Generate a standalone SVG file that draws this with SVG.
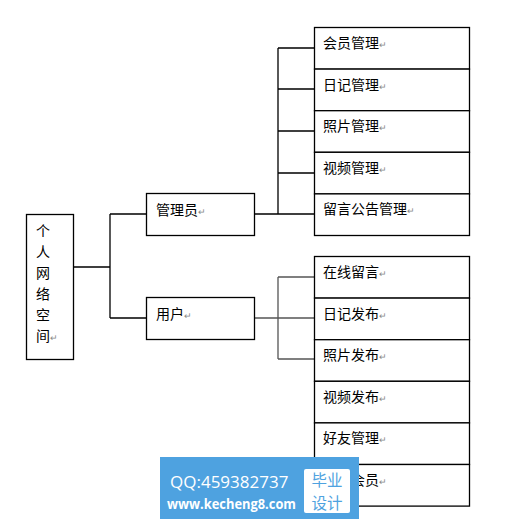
<svg xmlns="http://www.w3.org/2000/svg" width="520" height="524" viewBox="0 0 520 524">
<style>
.box{fill:#fff;stroke:#000;stroke-width:1.3}
.t{font-family:"Noto Sans CJK SC","Liberation Sans",sans-serif;font-size:14px;fill:#000}
.r{fill:#888;font-size:9px}
.ln{fill:none;stroke:#000;stroke-width:1.3}
.lg{fill:none;stroke:#555;stroke-width:1.3}
</style>
<rect width="520" height="524" fill="#fff"/>
<g id="connectors">
<path class="ln" d="M74 267H110M110 214V318M110 214H146M110 318H146"/>
<path class="ln" d="M254 214H278M278 48V214M278 48H314M278 89H314M278 131H314M278 173H314M278 214H314"/>
<path class="lg" d="M254 318H278M278 277V359M278 277H314M278 318H314M278 359H314"/>
</g>
<g id="root">
<rect class="box" x="26.5" y="214.5" width="47" height="145"/>
<text class="t" x="36" y="236">个</text>
<text class="t" x="36" y="257">人</text>
<text class="t" x="36" y="278">网</text>
<text class="t" x="36" y="299">络</text>
<text class="t" x="36" y="320">空</text>
<text class="t" x="36" y="341">间<tspan class="r">↵</tspan></text>
</g>
<g id="admin">
<rect class="box" x="146.5" y="193.5" width="108" height="42"/>
<text class="t" x="156" y="215">管理员<tspan class="r">↵</tspan></text>
</g>
<g id="user">
<rect class="box" x="146.5" y="297.5" width="108" height="42"/>
<text class="t" x="156" y="319">用户<tspan class="r">↵</tspan></text>
</g>
<g id="a1"><rect class="box" x="314.5" y="27.5" width="155" height="41.6"/><text class="t" x="323" y="48">会员管理<tspan class="r">↵</tspan></text></g>
<g id="a2"><rect class="box" x="314.5" y="69.1" width="155" height="41.6"/><text class="t" x="323" y="89.6">日记管理<tspan class="r">↵</tspan></text></g>
<g id="a3"><rect class="box" x="314.5" y="110.7" width="155" height="41.6"/><text class="t" x="323" y="131.2">照片管理<tspan class="r">↵</tspan></text></g>
<g id="a4"><rect class="box" x="314.5" y="152.3" width="155" height="41.6"/><text class="t" x="323" y="172.8">视频管理<tspan class="r">↵</tspan></text></g>
<g id="a5"><rect class="box" x="314.5" y="193.9" width="155" height="41.6"/><text class="t" x="323" y="214.4">留言公告管理<tspan class="r">↵</tspan></text></g>
<g id="u1"><rect class="box" x="314.5" y="256.5" width="155" height="41.6"/><text class="t" x="323" y="277">在线留言<tspan class="r">↵</tspan></text></g>
<g id="u2"><rect class="box" x="314.5" y="298.1" width="155" height="41.6"/><text class="t" x="323" y="318.6">日记发布<tspan class="r">↵</tspan></text></g>
<g id="u3"><rect class="box" x="314.5" y="339.7" width="155" height="41.6"/><text class="t" x="323" y="360.2">照片发布<tspan class="r">↵</tspan></text></g>
<g id="u4"><rect class="box" x="314.5" y="381.3" width="155" height="41.6"/><text class="t" x="323" y="401.8">视频发布<tspan class="r">↵</tspan></text></g>
<g id="u5"><rect class="box" x="314.5" y="422.9" width="155" height="41.6"/><text class="t" x="323" y="443.4">好友管理<tspan class="r">↵</tspan></text></g>
<g id="u6"><rect class="box" x="314.5" y="464.5" width="155" height="41.6"/><text class="t" x="351" y="485">会员<tspan class="r">↵</tspan></text></g>
<g id="watermark">
<rect x="160" y="457" width="199" height="62" fill="#4ea2e0"/>
<rect x="304" y="469" width="46" height="44" rx="2" fill="#fff"/>
<text x="170" y="488" font-family="'Open Sans','Liberation Sans',sans-serif" font-size="17" fill="#fff">QQ:459382737</text>
<text x="167" y="509" font-family="'Open Sans','Liberation Sans',sans-serif" font-size="13.5" font-weight="bold" fill="#fff" textLength="129" lengthAdjust="spacingAndGlyphs">www.kecheng8.com</text>
<text x="327" y="486" text-anchor="middle" font-family="'Noto Sans CJK SC',sans-serif" font-size="15.5" fill="#4ea2e0">毕业</text>
<text x="327" y="508.5" text-anchor="middle" font-family="'Noto Sans CJK SC',sans-serif" font-size="15.5" fill="#4ea2e0">设计</text>
</g>
</svg>
